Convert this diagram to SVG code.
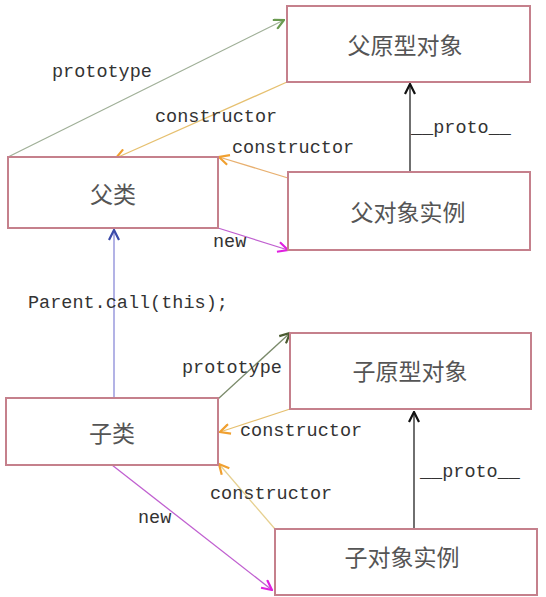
<svg xmlns="http://www.w3.org/2000/svg" width="546" height="597" viewBox="0 0 546 597">
<style>
.box{fill:#fff;stroke:#c5808c;stroke-width:2}
.cn{font-family:"Noto Sans CJK SC",sans-serif;font-size:23px;fill:#555;text-anchor:middle;dominant-baseline:central}
.lbl{font-family:"Liberation Mono",monospace;font-size:18.5px;fill:#333}
.c{fill:none;stroke-width:1.3}
</style>
<defs>
<marker id="aG" viewBox="0 0 12 12" refX="11" refY="6" markerWidth="12" markerHeight="12" markerUnits="userSpaceOnUse" orient="auto"><path d="M1,1 L11,6 L1,11" fill="none" stroke="#6a9a50" stroke-width="2.2"/></marker>
<marker id="aO" viewBox="0 0 12 12" refX="11" refY="6" markerWidth="12" markerHeight="12" markerUnits="userSpaceOnUse" orient="auto"><path d="M1,1 L11,6 L1,11" fill="none" stroke="#f0a030" stroke-width="2.2"/></marker>
<marker id="aM" viewBox="0 0 12 12" refX="11" refY="6" markerWidth="12" markerHeight="12" markerUnits="userSpaceOnUse" orient="auto"><path d="M1,1 L11,6 L1,11" fill="none" stroke="#e020e0" stroke-width="2.2"/></marker>
<marker id="aB" viewBox="0 0 12 12" refX="11" refY="6" markerWidth="12" markerHeight="12" markerUnits="userSpaceOnUse" orient="auto"><path d="M1,1 L11,6 L1,11" fill="none" stroke="#3a4aa8" stroke-width="2.2"/></marker>
<marker id="aK" viewBox="0 0 12 12" refX="11" refY="6" markerWidth="12" markerHeight="12" markerUnits="userSpaceOnUse" orient="auto"><path d="M1,1 L11,6 L1,11" fill="none" stroke="#111" stroke-width="2.2"/></marker>
<marker id="aD" viewBox="0 0 12 12" refX="11" refY="6" markerWidth="12" markerHeight="12" markerUnits="userSpaceOnUse" orient="auto"><path d="M1,1 L11,6 L1,11" fill="none" stroke="#4a5a30" stroke-width="2.2"/></marker>
</defs>

<g id="connectors">
<path class="c" d="M8,157 L284,20" stroke="#a0b098" marker-end="url(#aG)"/>
<path class="c" d="M287,82 L116,158" stroke="#e6c070" marker-end="url(#aO)"/>
<path class="c" d="M288,178 L219,157" stroke="#e8b070" marker-end="url(#aO)"/>
<path class="c" d="M410,172 L410,84" stroke="#222" stroke-width="1.6" marker-end="url(#aK)"/>
<path class="c" d="M218,228 L288,250" stroke="#c060d0" marker-end="url(#aM)"/>
<path class="c" d="M114,398 L114,230" stroke="#8a8ad8" marker-end="url(#aB)"/>
<path class="c" d="M218,399 L290,333" stroke="#7a8a6a" marker-end="url(#aD)"/>
<path class="c" d="M290,409 L220,432" stroke="#e6c070" marker-end="url(#aO)"/>
<path class="c" d="M414,529 L414,412" stroke="#222" stroke-width="1.6" marker-end="url(#aK)"/>
<path class="c" d="M275,529 L219,464" stroke="#e6d090" marker-end="url(#aO)"/>
<path class="c" d="M112,465 L272,590" stroke="#c060d0" marker-end="url(#aM)"/>
</g>

<g id="labels">
<text class="lbl" x="52" y="77">prototype</text>
<text class="lbl" x="155" y="122">constructor</text>
<text class="lbl" x="411" y="133">__proto__</text>
<text class="lbl" x="232" y="153">constructor</text>
<text class="lbl" x="213" y="247">new</text>
<text class="lbl" x="28" y="308">Parent.call(this);</text>
<text class="lbl" x="182" y="373">prototype</text>
<text class="lbl" x="240" y="436">constructor</text>
<text class="lbl" x="420" y="477">__proto__</text>
<text class="lbl" x="210" y="499">constructor</text>
<text class="lbl" x="138" y="523">new</text>
</g>

<g id="parentProto"><rect class="box" x="287" y="6" width="243" height="76"/><text class="cn" x="405" y="44">父原型对象</text></g>
<g id="parentClass"><rect class="box" x="8" y="157" width="210" height="71"/><text class="cn" x="113" y="193">父类</text></g>
<g id="parentInstance"><rect class="box" x="288" y="172" width="242" height="78"/><text class="cn" x="408" y="211">父对象实例</text></g>
<g id="childProto"><rect class="box" x="290" y="333" width="241" height="76"/><text class="cn" x="410" y="370">子原型对象</text></g>
<g id="childClass"><rect class="box" x="6" y="398" width="212" height="67"/><text class="cn" x="112" y="432">子类</text></g>
<g id="childInstance"><rect class="box" x="275" y="529" width="262" height="66"/><text class="cn" x="402" y="556">子对象实例</text></g>
</svg>
